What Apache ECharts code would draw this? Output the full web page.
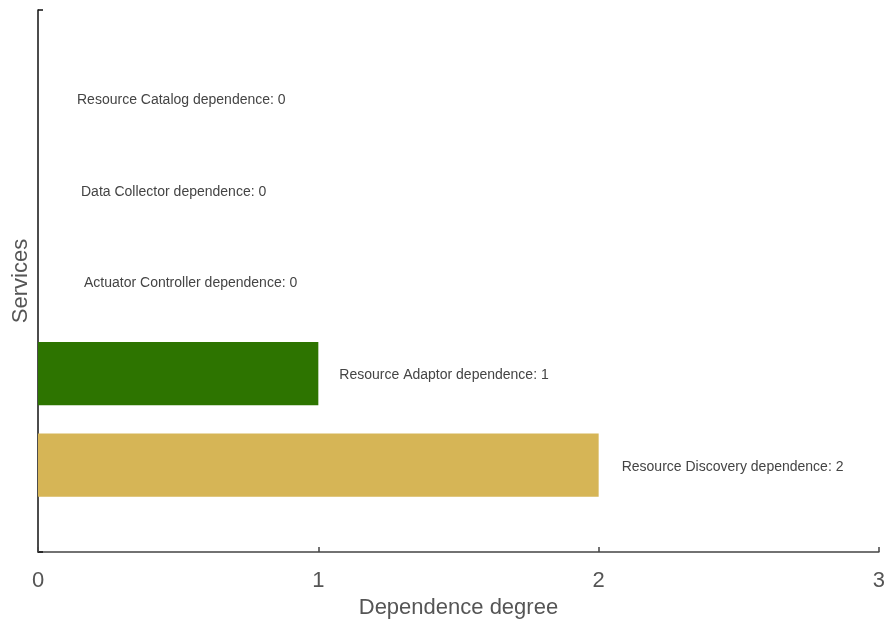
<!DOCTYPE html>
<html>
<head>
<meta charset="utf-8">
<title>Service dependence</title>
<script src="https://cdn.jsdelivr.net/npm/echarts@6/dist/echarts.min.js"></script>
<style>
  html, body { margin: 0; padding: 0; background: #fff; }
  #chart { width: 888px; height: 626px; }
</style>
</head>
<body>
<div id="chart"></div>
<script>
// Services listed from bottom to top
const services = ['Resource Discovery', 'Resource Adaptor', 'Actuator Controller', 'Data Collector', 'Resource Catalog'];
const dependence = [2, 1, 0, 0, 0];
const xTicks = [0, 1, 2, 3];

// Styling
const barColors = ['#d6b556', '#2d7400', '#2d7400', '#2d7400', '#2d7400'];
const labelGaps = [23, 21, 46, 43, 39];
const FONT = '"Liberation Sans", Arial, Helvetica, sans-serif';

const chart = echarts.init(document.getElementById('chart'));

const barData = dependence.map((v, i) => ({
  value: v,
  itemStyle: { color: barColors[i] },
  label: { distance: labelGaps[i] }
}));

chart.setOption({
  backgroundColor: '#ffffff',
  animation: false,
  textStyle: { fontFamily: FONT },
  grid: [
    // frame with the visible axes
    { left: 38, right: 9, top: 10, bottom: 74, containLabel: false },
    // band area holding the bars
    { left: 38, right: 9, top: 53, bottom: 115, containLabel: false }
  ],
  xAxis: [
    {
      gridIndex: 0,
      type: 'value',
      min: xTicks[0],
      max: xTicks[xTicks.length - 1],
      interval: 1,
      name: 'Dependence degree',
      nameLocation: 'middle',
      nameGap: 45,
      nameTextStyle: { fontSize: 22, color: '#555', fontFamily: FONT },
      axisLine: { show: true, lineStyle: { color: '#444', width: 1.5 } },
      axisTick: { show: true, inside: true, length: 5, lineStyle: { color: '#444', width: 1.5 } },
      axisLabel: { fontSize: 22, color: '#555', margin: 18, fontFamily: FONT },
      splitLine: { show: false }
    },
    {
      gridIndex: 1,
      type: 'value',
      min: xTicks[0],
      max: xTicks[xTicks.length - 1],
      show: false
    }
  ],
  yAxis: [
    {
      gridIndex: 0,
      type: 'value',
      min: 0,
      max: 1,
      interval: 1,
      name: 'Services',
      nameLocation: 'middle',
      nameGap: 6,
      nameRotate: 90,
      nameTextStyle: { fontSize: 22, color: '#555', fontFamily: FONT },
      axisLine: { show: true, lineStyle: { color: '#111', width: 1.5 } },
      axisTick: { show: true, inside: true, length: 5, lineStyle: { color: '#111', width: 1.5 } },
      axisLabel: { show: false },
      splitLine: { show: false }
    },
    {
      gridIndex: 1,
      type: 'category',
      data: services,
      show: false
    }
  ],
  series: [
    {
      type: 'bar',
      xAxisIndex: 1,
      yAxisIndex: 1,
      data: barData,
      barWidth: '69%',
      label: {
        show: true,
        position: 'right',
        offset: [0, 1.5],
        fontSize: 14,
        color: '#444',
        fontFamily: FONT,
        formatter: p => services[p.dataIndex] + ' dependence: ' + dependence[p.dataIndex]
      }
    }
  ]
});
</script>
</body>
</html>
